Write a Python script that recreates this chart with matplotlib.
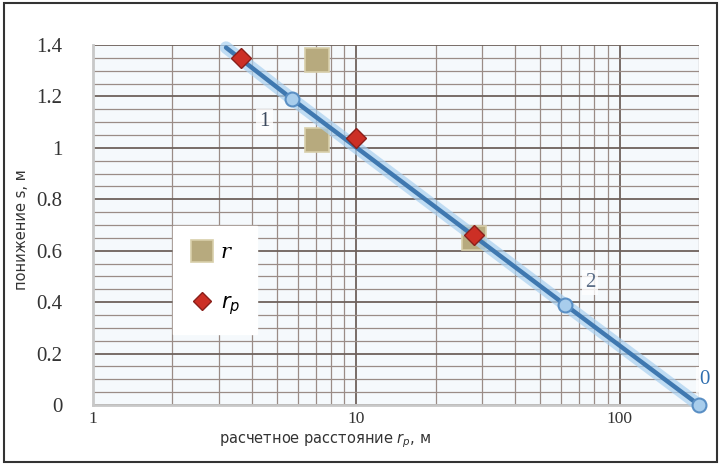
import numpy as np
import matplotlib
matplotlib.use("Agg")
import matplotlib.pyplot as plt
from matplotlib.ticker import FixedLocator, LogLocator, MultipleLocator, NullFormatter
from matplotlib.patches import Rectangle

# Calculated drawdown line (labelled points 1, 2, 0)
line_r = [3.2, 5.7, 62, 200]
line_s = [1.39, 1.19, 0.39, 0.0]
line_labels = ["", "1", "2", "0"]

# Observed points, r
obs_r = [7.1, 7.1, 28]
obs_s = [1.34, 1.03, 0.65]

# Calculated points, r_p
calc_r = [3.65, 10, 28]
calc_s = [1.35, 1.04, 0.66]

y_ticks = [0, 0.2, 0.4, 0.6, 0.8, 1.0, 1.2, 1.4]
y_tick_labels = ["0", "0.2", "0.4", "0.6", "0.8", "1", "1.2", "1.4"]
x_ticks = [1, 10, 100]
x_tick_labels = ["1", "10", "100"]

fig = plt.figure(figsize=(7.2, 4.66), dpi=100)
ax = fig.add_axes([93 / 720, 1 - 405 / 466, (699 - 93) / 720, (405 - 45) / 466])
ax.set_facecolor("#f5f9fc")

ax.set_xscale("log")
ax.set_xlim(1, 200)
ax.set_ylim(0, 1.4)

# grid
ax.xaxis.set_major_locator(FixedLocator(x_ticks))
ax.xaxis.set_minor_locator(LogLocator(base=10, subs=np.arange(2, 10)))
ax.xaxis.set_minor_formatter(NullFormatter())
ax.yaxis.set_major_locator(FixedLocator(y_ticks))
ax.yaxis.set_minor_locator(MultipleLocator(0.05))
ax.set_xticklabels(x_tick_labels)
ax.set_yticklabels(y_tick_labels)

ax.grid(which="major", axis="both", color="#6e625c", linewidth=1.3)
ax.grid(which="minor", axis="both", color="#9a8c86", linewidth=0.9)
ax.set_axisbelow(True)

for side in ("top", "right"):
    ax.spines[side].set_visible(False)
ax.spines["left"].set_color("#c8c8c8")
ax.spines["left"].set_linewidth(2)
ax.spines["bottom"].set_color("#c8c8c8")
ax.spines["bottom"].set_linewidth(2)

ax.tick_params(axis="both", which="both", length=0)
ax.tick_params(axis="y", pad=22, labelsize=15, colors="#333333")
ax.tick_params(axis="x", pad=4, labelsize=12.5, colors="#333333")
for lab in ax.get_yticklabels() + ax.get_xticklabels():
    lab.set_fontfamily("Liberation Serif")

# drawdown line with soft glow
ax.plot(line_r, line_s, color="#a9d0f0", linewidth=9, alpha=0.7,
        solid_capstyle="round", zorder=3, clip_on=False)
ax.plot(line_r, line_s, color="#3f78b0", linewidth=3.2,
        solid_capstyle="round", zorder=4, clip_on=False)
ax.plot(line_r[1:], line_s[1:], linestyle="none", marker="o", markersize=10,
        markerfacecolor="#a8cdec", markeredgecolor="#5a8fc4", markeredgewidth=1.5,
        zorder=5, clip_on=False)

label_offsets = {"1": (-20, -16), "2": (18, 16), "0": (4, 18)}
label_colors = {"1": "#3c4a5e", "2": "#5d6f88", "0": "#2f6fb0"}
for r, s, t in zip(line_r, line_s, line_labels):
    if not t:
        continue
    ax.annotate(t, (r, s), xytext=label_offsets[t], textcoords="offset points",
                ha="center", va="center", fontsize=15, family="Liberation Serif",
                color=label_colors[t], zorder=6,
                bbox=dict(boxstyle="square,pad=0.15", facecolor="white",
                          edgecolor="none", alpha=0.8), annotation_clip=False)

# observed and calculated points
h_obs, = ax.plot(obs_r, obs_s, linestyle="none", marker="s", markersize=17,
                 markerfacecolor="#b7aa7e", markeredgecolor="#d8cfaa",
                 markeredgewidth=1.2, zorder=2, label="r")
h_calc, = ax.plot(calc_r, calc_s, linestyle="none", marker="D", markersize=10,
                  markerfacecolor="#cc2f25", markeredgecolor="#8a1f1a",
                  markeredgewidth=1, zorder=6, label="$r_p$")

leg = ax.legend(handles=[h_obs, h_calc], labels=["r", "$r_p$"],
                loc="upper left", bbox_to_anchor=(0.115, 0.525),
                frameon=True, fancybox=False, framealpha=1,
                edgecolor="white", facecolor="white",
                labelspacing=1.5, handletextpad=0.3,
                borderpad=0.8, markerscale=0.9, handlelength=1.2,
                prop={"family": "DejaVu Serif", "style": "italic", "size": 15})

# axis titles
fig.text(22 / 720, 1 - 230 / 466, "понижение s, м", rotation=90,
         ha="center", va="center", fontsize=10.5, color="#333333",
         family="DejaVu Sans")
fig.text(325 / 720, 1 - 441 / 466, "расчетное расстояние $r_p$, м",
         ha="center", va="center", fontsize=10.5, color="#333333",
         family="DejaVu Sans")

# outer frame
fig.patches.append(Rectangle((4 / 720, 4 / 466), 713 / 720, 459 / 466,
                             transform=fig.transFigure, fill=False,
                             edgecolor="#333333", linewidth=1.5))

fig.savefig("out.png", dpi=100)
